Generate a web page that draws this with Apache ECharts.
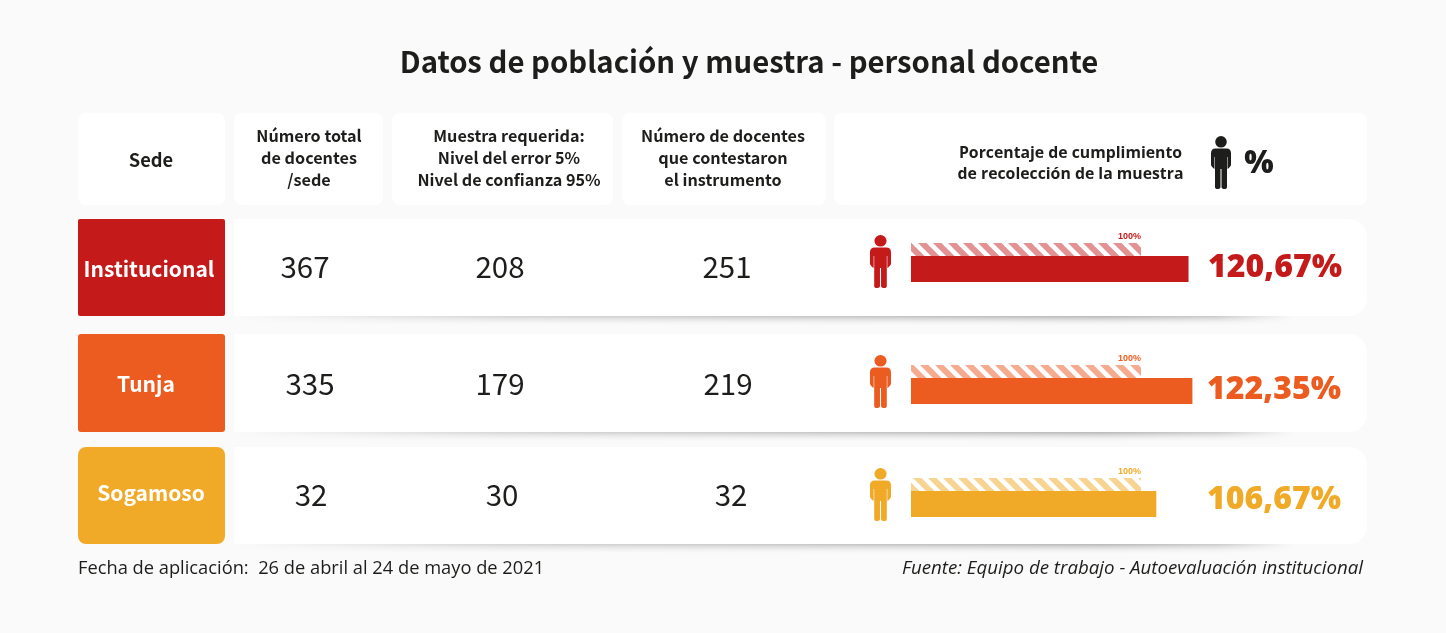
<!DOCTYPE html>
<html><head><meta charset="utf-8">
<style>html,body{margin:0;padding:0;background:#fafafa}#c{width:1446px;height:633px}</style>
<script src="https://cdn.jsdelivr.net/npm/echarts@6/dist/echarts.min.js"></script>
</head><body><div id="c"></div>
<script>
// ---- data ----
const titulo = 'Datos de población y muestra - personal docente';
const sedes = ['Institucional', 'Tunja', 'Sogamoso'];
const totalDocentes = [367, 335, 32];
const muestraRequerida = [208, 179, 30];
const contestaron = [251, 219, 32];
const cumplimiento = [120.67, 122.35, 106.67];
const referencia = [100, 100, 100];
const encabezados = [
  ['Sede'],
  ['Número total', 'de docentes', '/sede'],
  ['Muestra requerida:', 'Nivel del error 5%', 'Nivel de confianza 95%'],
  ['Número de docentes', 'que contestaron', 'el instrumento'],
  ['Porcentaje de cumplimiento', 'de recolección de la muestra']
];
const fechaTxt = 'Fecha de aplicación:  26 de abril al 24 de mayo de 2021';
const fuenteTxt = 'Fuente: Equipo de trabajo - Autoevaluación institucional';

// ---- layout & style ----
const colores = ['#c41a1a', '#ec5c20', '#f0aa28'];
const claros = ['#e39294', '#f5ab8f', '#f8d492'];
const INK = '#1d1d1b';
const CJK = '"Noto Sans CJK SC","Noto Sans",sans-serif';
const OS = '"Open Sans",sans-serif';
const headCards = [[78,147],[234,149],[392,221],[622,204],[834,533]];
const headCx = [151, 309, 509, 723, 1070.5];
const rowTop = [219, 334, 447], rowH = [97, 98, 97];
const labelRad = [2, 3, 8];
const labelPos = [[149,269],[146,384],[151,493]];
const colX = [[305,500,727],[310,500,728],[311,502,731]];
const numY = [267, 384, 495];
const barTop = [256, 378, 491];
const stripeTop = [243, 365, 478];
const iconTop = [235, 355, 468];
const pctPos = [[1342,268],[1341,390],[1341,500]];
const personPath = 'M10 0a5.8 5.8 0 1 1 0 11.6a5.8 5.8 0 1 1 0-11.6z M4.5 12.6H15.5C18.5 12.6 20 14.5 20 17V28.5C20 30 18.5 31.5 16.5 33V21H16V51C16 52.5 15 53 13.5 53C12 53 10.5 52.5 10.5 51V33H9.5V51C9.5 52.5 8 53 6.5 53C5 53 4 52.5 4 51V21H3.5V33C1.5 31.5 0 30 0 28.5V17C0 14.5 1.5 12.6 4.5 12.6Z';
const iconos = [[1211,136,20,53,INK],[870,iconTop[0],21,53,colores[0]],[870,iconTop[1],21,53,colores[1]],[870,iconTop[2],21,53,colores[2]]];

function stripes(color){
  const s = 15, c = document.createElement('canvas');
  c.width = s; c.height = s;
  const g = c.getContext('2d');
  g.fillStyle = color;
  for (const o of [-s, 0, s]) {
    g.beginPath();
    g.moveTo(o, 0); g.lineTo(o + 8.5, 0); g.lineTo(o + 8.5 + s, s); g.lineTo(o + s, s);
    g.closePath(); g.fill();
  }
  return c;
}
const T = (x, y, text, font, fill, align) => ({
  type:'text', x, y, silent:true,
  style:{text, font, fill, align:align||'center', verticalAlign:'middle'}
});

const graphics = [];
graphics.push(T(749, 61.5, titulo, '700 29.3px '+CJK, INK));
headCards.forEach(([x,w]) => graphics.push({type:'rect', shape:{x, y:113, width:w, height:92, r:8}, style:{fill:'#fff'}, silent:true}));
encabezados.forEach((lines, i) => {
  const lh = 21.8, y0 = i===0 ? 160 : (i===4 ? 153 : 136);
  const font = i===4 ? '700 15.8px '+OS : (i===0 ? '700 18.3px '+CJK : '700 16.2px '+CJK);
  lines.forEach((l, j) => graphics.push(T(headCx[i], y0 + j*lh, l, font, INK)));
});
graphics.push(T(1259, 164, '%', '800 31px '+OS, INK));

sedes.forEach((s, i) => {
  const top = rowTop[i], h = rowH[i], bot = top + h;
  // soft shadow below each row, strongest towards the right
  for (let j = 0; j < 11; j++) {
    const a = 0.30 * Math.pow(1 - j/11, 2);
    graphics.push({type:'rect', silent:true, shape:{x:234, y:bot - 1 + j, width:1060, height:1},
      style:{fill:{type:'linear', x:0, y:0, x2:1, y2:0, colorStops:[
        {offset:0, color:'rgba(0,0,0,0)'},
        {offset:0.25, color:'rgba(0,0,0,'+(a*0.55)+')'},
        {offset:0.82, color:'rgba(0,0,0,'+a+')'},
        {offset:0.93, color:'rgba(0,0,0,'+(a*0.7)+')'},
        {offset:1, color:'rgba(0,0,0,0)'}]}}});
  }
  graphics.push({type:'rect', silent:true, shape:{x:234, y:top, width:1133, height:h, r:18}, style:{fill:'#fff'}});
  graphics.push({type:'rect', silent:true, shape:{x:234, y:top, width:100, height:h}, style:{fill:'#fff'}});
  graphics.push({type:'rect', silent:true, shape:{x:78, y:top, width:147, height:h, r:labelRad[i]}, style:{fill:colores[i]}});
  graphics.push(T(labelPos[i][0], labelPos[i][1], s, '700 21px '+CJK, '#fff'));
  [totalDocentes, muestraRequerida, contestaron].forEach((arr, k) =>
    graphics.push(T(colX[i][k], numY[i], String(arr[i]), '400 29.5px '+CJK, INK)));
  graphics.push(T(pctPos[i][0], pctPos[i][1], cumplimiento[i].toFixed(2).replace('.', ',') + '%', '800 32px '+OS, colores[i], 'right'));
});
graphics.push(T(78, 568.5, fechaTxt, '400 18.3px '+OS, INK, 'left'));
graphics.push(T(1363, 568.5, fuenteTxt, 'italic 400 18.7px '+OS, INK, 'right'));

// ---- one real-value grid and one reference grid per sede, on a shared scale ----
const grids = [], xAxes = [], yAxes = [], series = [];
const addBar = (top, height, name, val, color, label) => {
  const idx = grids.length;
  grids.push({left:911, width:299, top, height});
  xAxes.push({type:'value', gridIndex:idx, min:0, max:130, show:false});
  yAxes.push({type:'category', gridIndex:idx, data:[name], show:false});
  series.push({type:'bar', name, xAxisIndex:idx, yAxisIndex:idx, data:[val], barWidth:'100%',
    itemStyle:{color}, label, silent:true, animation:false});
};
sedes.forEach((s, i) => {
  addBar(stripeTop[i], 13, s+' 100%', referencia[i], {image:stripes(claros[i]), repeat:'repeat'}, {
    show:true, position:'insideRight', distance:0, offset:[0,-13],
    formatter:p => p.value + '%', fontFamily:'"Liberation Sans",Arial,sans-serif', fontWeight:'bold', fontSize:9, color:colores[i]});
  addBar(barTop[i], 26, s, cumplimiento[i], colores[i], {show:false});
});
// person pictograms
series.push({type:'custom', coordinateSystem:'none', silent:true, animation:false, z:3,
  data:iconos.map((_, i) => [i]),
  renderItem:(params) => {
    const [x,y,w,h,fill] = iconos[params.dataIndex];
    return {type:'path', shape:{pathData:personPath, layout:'cover', x, y, width:w, height:h}, style:{fill}};
  }});

const chart = echarts.init(document.getElementById('c'), null, {renderer:'canvas'});
chart.setOption({
  backgroundColor:'#fafafa', animation:false, tooltip:{show:false},
  graphic:{elements:graphics}, grid:grids, xAxis:xAxes, yAxis:yAxes, series
});
</script></body></html>
